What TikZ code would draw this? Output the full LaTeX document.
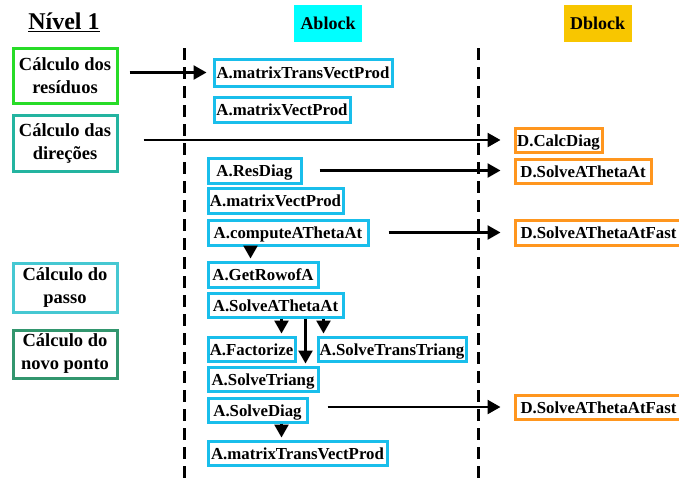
\documentclass[tikz,border=0pt]{standalone}
\usepackage{fontspec}
\setmainfont{Liberation Serif}
\usetikzlibrary{arrows.meta,calc}

\definecolor{resgreen}{RGB}{40,220,40}
\definecolor{dirteal}{RGB}{35,180,160}
\definecolor{passoturq}{RGB}{70,200,210}
\definecolor{novogreen}{RGB}{50,150,110}
\definecolor{ablue}{RGB}{25,190,235}
\definecolor{dorange}{RGB}{255,150,30}
\definecolor{ahead}{RGB}{0,255,255}
\definecolor{dhead}{RGB}{248,198,0}

\tikzset{
  phase/.style={draw, line width=3pt, minimum width=104pt, inner sep=0pt, align=center,
    font=\fontsize{18.5}{23}\selectfont\bfseries},
  abox/.style={draw=ablue, line width=3pt, minimum height=25pt, inner sep=0pt,
    text height=15pt, text depth=3pt,
    font=\fontsize{16.8}{18}\selectfont\bfseries},
  dbox/.style={draw=dorange, line width=3pt, minimum height=24pt, inner sep=0pt,
    text height=15pt, text depth=3pt,
    font=\fontsize{16.8}{18}\selectfont\bfseries},
  headbox/.style={minimum width=68pt, minimum height=37pt, inner sep=0pt,
    font=\fontsize{18}{20}\selectfont\bfseries},
  lane/.style={line width=3pt, dash pattern=on 12pt off 7pt},
  arr/.style={line width=2.5pt, -{Triangle[length=13pt,width=14pt]}},
}

\begin{document}
\begin{tikzpicture}[x=1pt,y=-1pt]
\useasboundingbox (0,0) rectangle (679,483);

% title
\node (title) at (64,22) {\fontsize{24}{26}\selectfont\bfseries\underline{Nível 1}};

% column headers
\node[headbox, fill=ahead] (ahdr) at (328,23.5) {Ablock};
\node[headbox, fill=dhead] (dhdr) at (597.5,23.5) {Dblock};

% lane separators
\coordinate (lA1) at (184,48); \coordinate (lA2) at (184,483);
\coordinate (lD1) at (478,48); \coordinate (lD2) at (478,483);
\draw[lane] (lA1) -- (lA2);
\draw[lane] (lD1) -- (lD2);

% phases
\node[phase, draw=resgreen,  minimum height=55pt] (res)   at (65,75.5) {Cálculo dos\\resíduos};
\node[phase, draw=dirteal,   minimum height=56pt] (dir)   at (65,143)  {Cálculo das\\direções};
\node[phase, draw=passoturq, minimum height=49pt] (passo) at (65,287.5) {Cálculo do\\passo};
\node[phase, draw=novogreen, minimum height=48pt] (novo)  at (65,354)  {Cálculo do\\novo ponto};

% Ablock routines
\node[abox, minimum width=178pt, minimum height=27pt] (a1) at (303,72.5) {A.matrixTransVectProd};
\node[abox, minimum width=136pt] (a2)  at (282,109.5) {A.matrixVectProd};
\node[abox, minimum width=93pt]  (a3)  at (254.5,170.5) {A.ResDiag};
\node[abox, minimum width=135pt] (a4)  at (275.5,200.5) {A.matrixVectProd};
\node[abox, minimum width=160pt] (a5)  at (288,232.5) {A.computeAThetaAt};
\node[abox, minimum width=110pt] (a6)  at (263,274.5) {A.GetRowofA};
\node[abox, minimum width=135pt, minimum height=24pt] (a7) at (275.5,305) {A.SolveAThetaAt};
\node[abox, minimum width=87pt, minimum height=24pt]  (a8) at (251.5,349) {A.Factorize};
\node[abox, minimum width=148pt, minimum height=24pt] (a9) at (392,349) {A.SolveTransTriang};
\node[abox, minimum width=110pt, minimum height=24pt] (a10) at (263,379) {A.SolveTriang};
\node[abox, minimum width=99pt, minimum height=24pt]  (a11) at (257.5,410) {A.SolveDiag};
\node[abox, minimum width=179pt, minimum height=24pt] (a12) at (297.5,453) {A.matrixTransVectProd};

% Dblock routines
\node[dbox, minimum width=87pt]  (d1) at (558.5,140) {D.CalcDiag};
\node[dbox, minimum width=136pt] (d2) at (583,171)   {D.SolveAThetaAt};
\node[dbox, minimum width=167pt, minimum height=25pt] (d3) at (598.5,232.5) {D.SolveAThetaAtFast};
\node[dbox, minimum width=167pt] (d4) at (598.5,407) {D.SolveAThetaAtFast};

% calls across lanes
\draw[arr, shorten >=6pt]  ($(res.east |- a1.west)+(11,0)$) -- (a1.west);
\draw[arr, shorten >=13pt] ($(dir.east |- d1.west)+(25,0)$) -- (d1.west);
\draw[arr, shorten >=13pt] ($(a3.east)+(17,0)$) -- (a3.east -| d2.west);
\draw[arr, shorten >=13pt] ($(a5.east)+(19,0)$) -- (a5.east -| d3.west);
\draw[arr, shorten >=13pt] ($(a11.east |- d4.west)+(19,0)$) -- (d4.west);

% calls inside Ablock
\draw[arr, shorten >=2pt] ($(a5.south west)+(44,0)$) coordinate (v1) -- (v1 |- a6.north);
\draw[arr, shorten >=2pt] ($(a7.south west)+(75,0)$) coordinate (v2) -- (v2 |- a8.north);
\draw[arr, shorten >=2pt] ($(a7.south west)+(117,0)$) coordinate (v3) -- (v3 |- a9.north);
\draw[arr, shorten >=2pt] ($(a7.south west)+(99,0)$) coordinate (v4) -- (v4 |- a10.north);
\draw[arr, shorten >=2pt] ($(a11.south west)+(75,0)$) coordinate (v5) -- (v5 |- a12.north);
\end{tikzpicture}
\end{document}
